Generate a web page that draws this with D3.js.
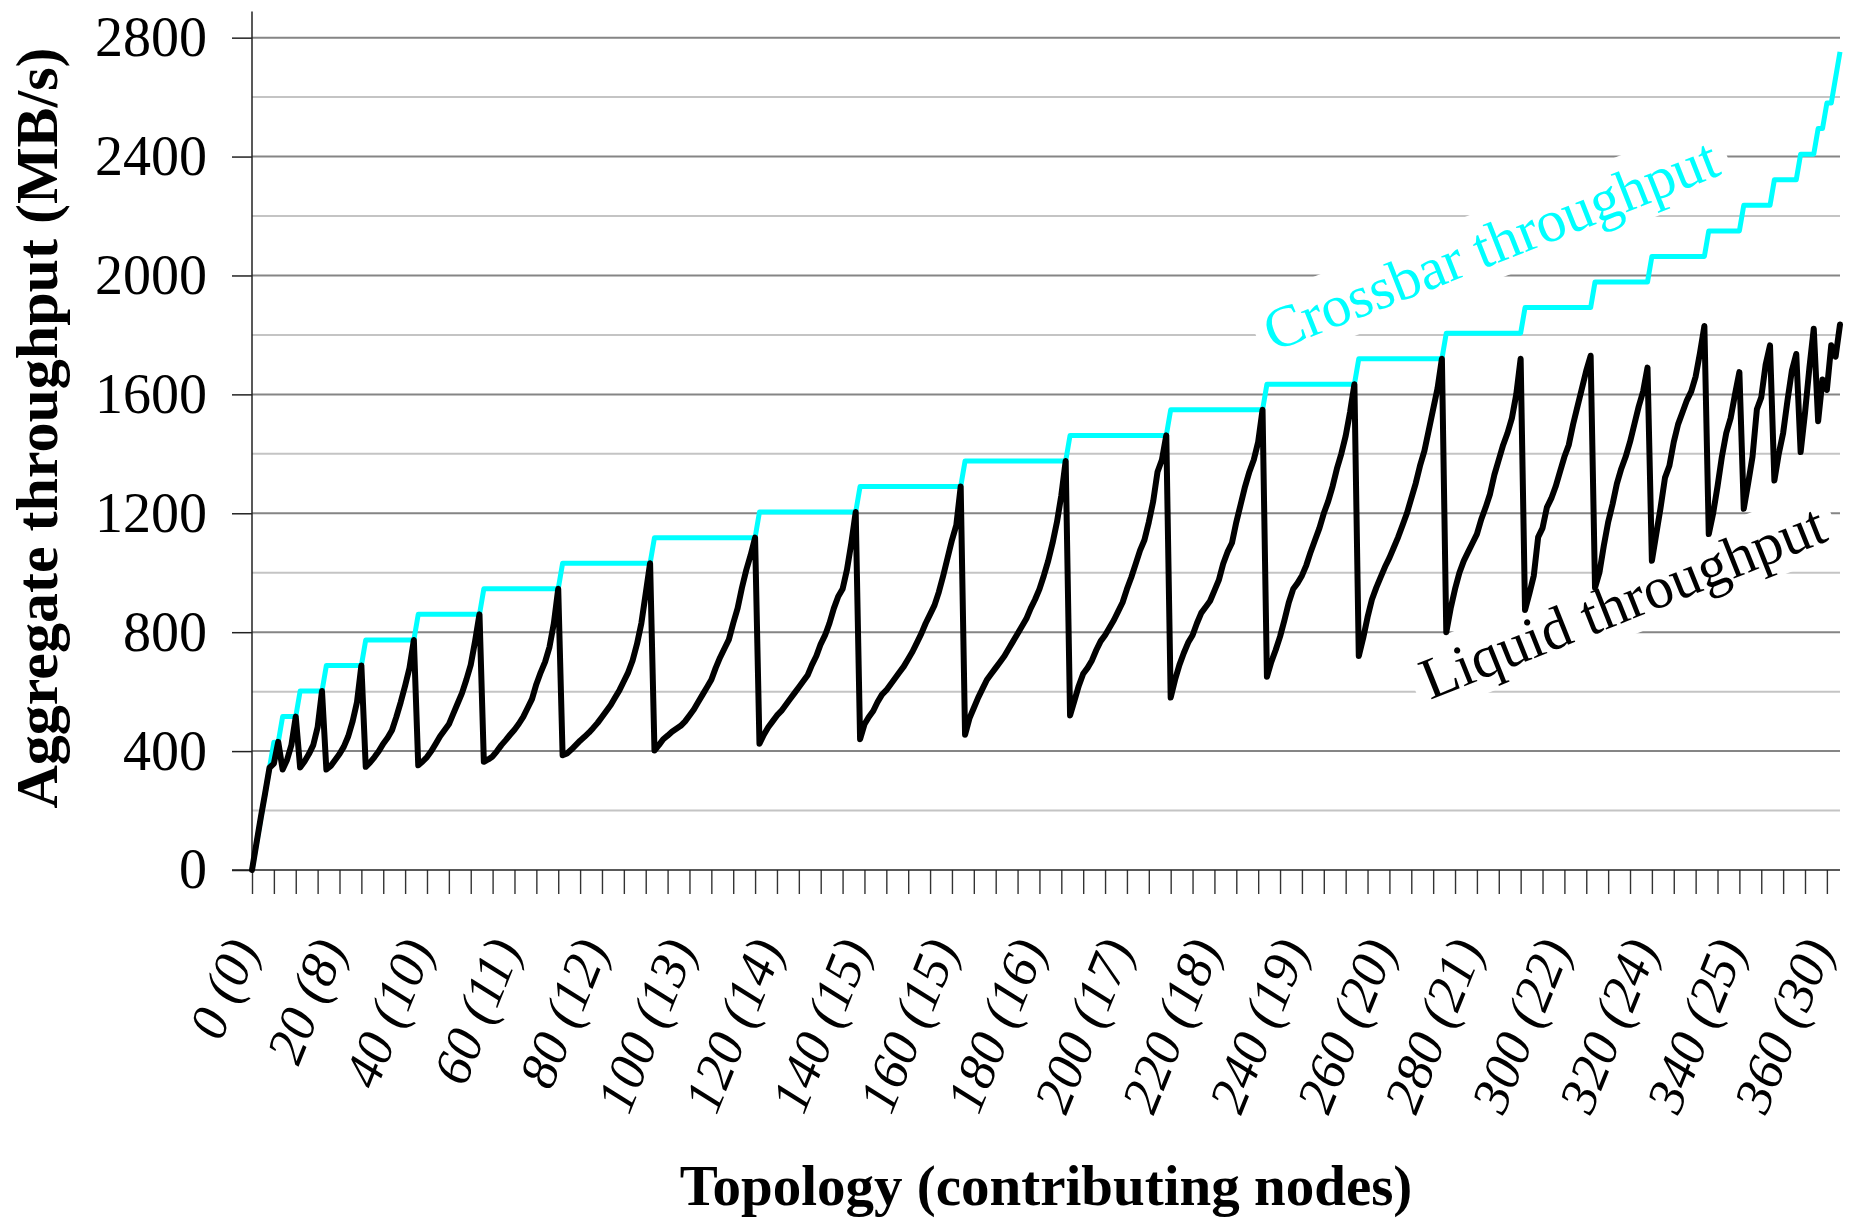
<!DOCTYPE html>
<html><head><meta charset="utf-8">
<script src="https://cdn.jsdelivr.net/npm/d3@7/dist/d3.min.js"></script>
<style>
body{margin:0;background:#fff}
svg{display:block}
</style>
</head><body>
<svg id="chart" width="1849" height="1219"></svg>
<script>
// ---------------- DATA ----------------
// node counts present among the topologies (x order), and how many consecutive topologies have each count
const nodeCounts = [0,1,2,3,4,5,6,7,8,9,10,11,12,13,14,15,16,17,18,19,20,21,22,23,24,25,26,27,28,29,30,31,32];
const topologiesPerCount = [1,1,1,1,1,2,4,6,9,12,15,18,21,24,23,24,24,23,22,21,20,18,16,13,13,8,7,6,4,2,2,1,1];
// crossbar throughput level (MB/s) for each node count
const crossbarLevels = [0,86,172,258,344,430,516,602,688,774,860,946,1032,1118,1204,1290,1376,1462,1548,1634,1720,1806,1892,1978,2064,2150,2236,2322,2408,2494,2580,2666,2752];
// liquid throughput (MB/s) per topology, grouped by node count
const liquidThroughput = [
  0,
  88,
  176,
  258,
  344,
  358, 431,
  338, 370, 420, 516,
  345, 365, 390, 420, 480, 602,
  338, 350, 370, 390, 415, 450, 500, 565, 688,
  347, 362, 380, 400, 425, 445, 470, 515, 565, 620, 680, 774,
  352, 365, 380, 400, 425, 450, 470, 490, 525, 560, 595, 640, 690, 770, 860,
  364, 372, 382, 400, 420, 437, 455, 472, 492, 515, 545, 575, 625, 665, 700, 750, 830, 946,
  386, 392, 405, 420, 435, 448, 462, 478, 495, 515, 535, 555, 580, 605, 635, 665, 705, 760, 830, 930, 1032,
  402, 420, 440, 452, 465, 475, 485, 500, 520, 540, 565, 590, 615, 640, 680, 715, 745, 775, 830, 880, 950, 1010, 1060, 1118,
  425, 455, 480, 500, 520, 535, 555, 575, 595, 615, 635, 655, 690, 720, 760, 790, 830, 880, 920, 945, 1010, 1100, 1204,
  440, 490, 515, 535, 565, 590, 605, 625, 645, 665, 685, 710, 735, 765, 795, 830, 860, 890, 935, 990, 1050, 1110, 1160, 1290,
  455, 510, 545, 580, 610, 640, 660, 680, 700, 720, 745, 770, 795, 820, 845, 880, 910, 945, 990, 1040, 1100, 1170, 1260, 1376,
  520, 570, 620, 660, 680, 705, 740, 770, 790, 815, 840, 870, 900, 945, 985, 1030, 1075, 1110, 1170, 1240, 1340, 1380, 1462,
  580, 640, 690, 730, 765, 790, 830, 865, 885, 905, 940, 975, 1030, 1070, 1100, 1170, 1230, 1290, 1340, 1380, 1440, 1548,
  650, 700, 740, 785, 840, 900, 945, 965, 990, 1025, 1070, 1110, 1150, 1200, 1240, 1290, 1350, 1400, 1460, 1540, 1634,
  720, 780, 850, 910, 950, 985, 1020, 1050, 1085, 1120, 1160, 1200, 1250, 1300, 1360, 1410, 1480, 1550, 1620, 1720,
  800, 880, 945, 1000, 1040, 1070, 1100, 1130, 1180, 1220, 1265, 1330, 1380, 1430, 1470, 1520, 1600, 1720,
  875, 930, 990, 1120, 1150, 1220, 1250, 1290, 1340, 1390, 1430, 1500, 1560, 1620, 1680, 1730,
  950, 1000, 1090, 1170, 1230, 1300, 1350, 1390, 1440, 1500, 1560, 1610, 1690,
  1040, 1130, 1220, 1320, 1360, 1440, 1500, 1540, 1580, 1610, 1660, 1740, 1830,
  1130, 1200, 1290, 1390, 1470, 1520, 1600, 1675,
  1215, 1300, 1390, 1550, 1590, 1700, 1765,
  1310, 1400, 1470, 1580, 1680, 1736,
  1406, 1538, 1689, 1821,
  1510, 1650,
  1615, 1765,
  1727,
  1835
];
const xTickLabelIndex = [0,20,40,60,80,100,120,140,160,180,200,220,240,260,280,300,320,340,360];
const xTickLabels = ["0 (0)","20 (8)","40 (10)","60 (11)","80 (12)","100 (13)","120 (14)","140 (15)","160 (15)","180 (16)","200 (17)","220 (18)","240 (19)","260 (20)","280 (21)","300 (22)","320 (24)","340 (25)","360 (30)"];
const yTicks = [0,400,800,1200,1600,2000,2400,2800];
const yMinor = [200,600,1000,1400,1800,2200,2600];

// ---------------- BUILD ----------------
const crossbarThroughput = [];
nodeCounts.forEach((n, i) => {
  for (let k = 0; k < topologiesPerCount[i]; k++) crossbarThroughput.push(crossbarLevels[i]);
});
const N = liquidThroughput.length;

const P = {left: 252, right: 1840, top: 11.5, bottom: 870};
const FONT = "'Liberation Serif','Times New Roman',serif";

const svg = d3.select('#chart');
svg.append('rect').attr('width',1849).attr('height',1219).attr('fill','#fff');

const x = d3.scalePoint().domain(d3.range(N)).range([P.left, P.right]);
const y = d3.scaleLinear().domain([0, 2888]).range([P.bottom, P.top]);

// gridlines
svg.append('g').selectAll('line').data(yMinor).join('line')
  .attr('x1', P.left).attr('x2', P.right)
  .attr('y1', d => y(d)).attr('y2', d => y(d))
  .attr('stroke', '#c4c4c4').attr('stroke-width', 2);
svg.append('g').selectAll('line').data(yTicks.filter(d => d > 0)).join('line')
  .attr('x1', P.left).attr('x2', P.right)
  .attr('y1', d => y(d)).attr('y2', d => y(d))
  .attr('stroke', '#858585').attr('stroke-width', 2);

// y axis
const yAxis = svg.append('g').attr('transform', `translate(${P.left},0)`)
  .call(d3.axisLeft(y).tickValues(yTicks).tickSize(20).tickPadding(25).tickFormat(d3.format('d')));
yAxis.select('.domain').remove();
yAxis.selectAll('.tick line').attr('stroke', '#222').attr('stroke-width', 1.5);
yAxis.selectAll('.tick text').attr('font-family', FONT).attr('font-size', 56).attr('fill', '#000');
svg.append('line').attr('x1', P.left).attr('x2', P.left).attr('y1', P.top).attr('y2', P.bottom)
  .attr('stroke', '#222').attr('stroke-width', 1.5);

// x axis
const xAxis = svg.append('g').attr('transform', `translate(0,${P.bottom})`)
  .call(d3.axisBottom(x).tickValues(d3.range(0, N, 5)).tickSize(24).tickFormat(''));
xAxis.select('.domain').remove();
xAxis.selectAll('.tick line').attr('stroke', '#333').attr('stroke-width', 1.4);
svg.append('line').attr('x1', P.left - 20).attr('x2', P.right).attr('y1', P.bottom).attr('y2', P.bottom)
  .attr('stroke', '#222').attr('stroke-width', 1.5);

// x tick labels (rotated, italic)
svg.append('g').selectAll('text').data(xTickLabelIndex).join('text')
  .attr('transform', (d) => `translate(${x(d) + 7},${948}) rotate(-68)`)
  .attr('text-anchor', 'end')
  .attr('font-family', FONT).attr('font-style', 'italic').attr('font-size', 53)
  .attr('fill', '#000')
  .text((d, i) => xTickLabels[i]);

// axis titles
svg.append('text')
  .attr('transform', 'translate(57,428) rotate(-90)')
  .attr('text-anchor', 'middle')
  .attr('font-family', FONT).attr('font-weight', 'bold').attr('font-size', 60)
  .text('Aggregate throughput (MB/s)');
svg.append('text')
  .attr('x', (P.left + P.right) / 2).attr('y', 1205)
  .attr('text-anchor', 'middle')
  .attr('font-family', FONT).attr('font-weight', 'bold').attr('font-size', 57)
  .text('Topology (contributing nodes)');

// annotations with white boxes
function annotate(text, cx, cy, angle, color, size) {
  const g = svg.append('g').attr('transform', `translate(${cx},${cy}) rotate(${angle})`);
  const r = g.append('rect').attr('fill', '#fff');
  const t = g.append('text').attr('text-anchor', 'middle')
    .attr('font-family', FONT).attr('font-size', size).attr('fill', color).text(text);
  const b = t.node().getBBox();
  r.attr('x', b.x - 10).attr('y', b.y - 2).attr('width', b.width + 20).attr('height', b.height + 4);
}
annotate('Crossbar throughput', 1498, 263, -21.6, '#00ffff', 59);
annotate('Liquid throughput', 1630, 620, -21.8, '#000000', 59);

// series
const line = d3.line().x((d, i) => x(i)).y(d => y(d));
svg.append('path').datum(crossbarThroughput)
  .attr('fill', 'none').attr('stroke', '#00ffff').attr('stroke-width', 5)
  .attr('stroke-linejoin', 'round').attr('d', line);
svg.append('path').datum(liquidThroughput)
  .attr('fill', 'none').attr('stroke', '#000').attr('stroke-width', 6)
  .attr('stroke-linejoin', 'round').attr('stroke-linecap', 'round').attr('d', line);
</script>
</body></html>
